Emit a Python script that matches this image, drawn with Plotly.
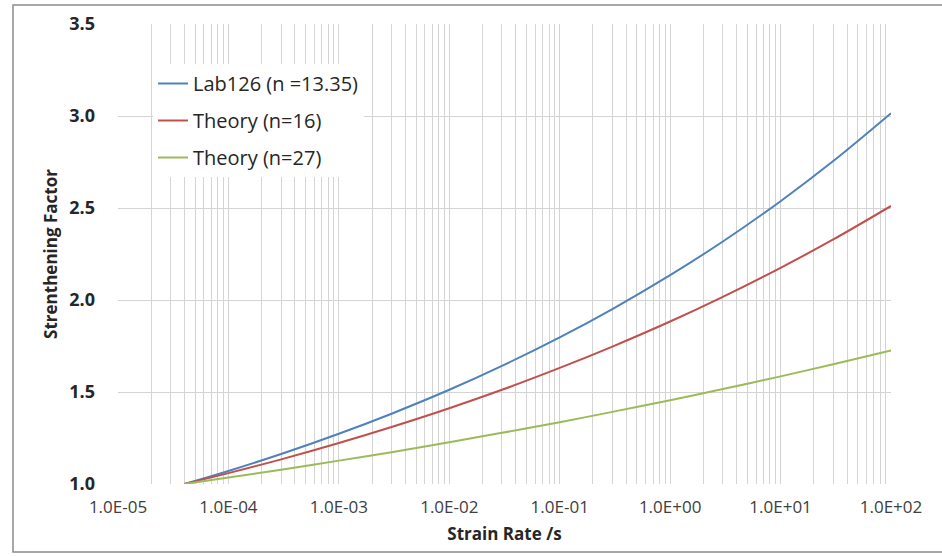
import plotly.graph_objects as go

# Strain rate (1/s) sample points
strain_rate = [4e-5, 1e-4, 3e-4, 1e-3, 3e-3, 1e-2, 3e-2, 1e-1, 3e-1, 1e0, 3e0, 1e1, 3e1, 1e2]
lab126 = [1.000, 1.071, 1.163, 1.273, 1.382, 1.512, 1.642, 1.797, 1.951, 2.135, 2.318, 2.537, 2.755, 3.015]
theory16 = [1.000, 1.059, 1.134, 1.223, 1.310, 1.412, 1.512, 1.631, 1.747, 1.883, 2.017, 2.175, 2.329, 2.511]
theory27 = [1.000, 1.035, 1.077, 1.127, 1.173, 1.227, 1.278, 1.336, 1.392, 1.455, 1.516, 1.585, 1.651, 1.726]

series_names = ["Lab126 (n =13.35)", "Theory (n=16)", "Theory (n=27)"]
series_colors = ["#4F81BD", "#C0504D", "#9BBB59"]

x_tickvals = [1e-5, 1e-4, 1e-3, 1e-2, 1e-1, 1e0, 1e1, 1e2]
x_ticktext = ["1.0E-05", "1.0E-04", "1.0E-03", "1.0E-02", "1.0E-01", "1.0E+00", "1.0E+01", "1.0E+02"]
y_tickvals = [1.0, 1.5, 2.0, 2.5, 3.0, 3.5]
y_ticktext = ["1.0", "1.5", "2.0", "2.5", "3.0", "3.5"]

fig = go.Figure()
for i, (name, ys, col) in enumerate(zip(series_names, [lab126, theory16, theory27], series_colors)):
    fig.add_trace(go.Scatter(
        x=strain_rate, y=ys, mode="lines", name=name,
        line=dict(color=col, width=2, shape="spline", smoothing=1.0),
        legendgroup=f"g{i}",
    ))

grid_col = "#D4D4D4"
L, R, T, B = 118, 51, 24, 72
pw, ph = 942 - L - R, 556 - T - B

fig.update_layout(
    width=942, height=556,
    margin=dict(l=L, r=R, t=T, b=B, autoexpand=False),
    paper_bgcolor="white", plot_bgcolor="white",
    showlegend=True,
    legend=dict(
        x=(153 - L) / pw, y=(556 - B - 64) / ph, xanchor="left", yanchor="top",
        font=dict(family="Open Sans", size=20, color="#262626"),
        bgcolor="white", traceorder="grouped", tracegroupgap=8,
    ),
    xaxis=dict(
        type="log", range=[-5, 2],
        tickvals=x_tickvals, ticktext=x_ticktext,
        tickfont=dict(family="Open Sans", size=17, color="#404040"),
        showgrid=True, gridcolor=grid_col, gridwidth=1,
        minor=dict(dtick="D1", showgrid=True, gridcolor=grid_col, gridwidth=1),
        showline=False, zeroline=False,
        ticks="", ticklabelstandoff=11,
        title=dict(text="<b>Strain Rate /s</b>", font=dict(family="Open Sans", size=17, color="#262626"), standoff=11),
    ),
    yaxis=dict(
        range=[1.0, 3.5],
        tickvals=y_tickvals, ticktext=y_ticktext,
        tickfont=dict(family="Open Sans", size=18, color="#262626", weight="bold"),
        showgrid=True, gridcolor=grid_col, gridwidth=1,
        showline=False, zeroline=False,
        ticks="", ticklabelstandoff=22,
        title=dict(text="<b>Strenthening Factor</b>", font=dict(family="Open Sans", size=17, color="#262626"), standoff=7),
    ),
    shapes=[
        dict(type="rect", xref="paper", yref="paper",
             x0=(13 - L) / pw, x1=(950 - L) / pw,
             y0=(556 - B - 552) / ph, y1=(556 - B - 5) / ph,
             line=dict(color="#8C8C8C", width=1.5), fillcolor="rgba(0,0,0,0)", layer="below"),
    ],
)

fig.write_html("out.html", config={"displayModeBar": False},
               post_script="document.body.style.margin='0px';")
